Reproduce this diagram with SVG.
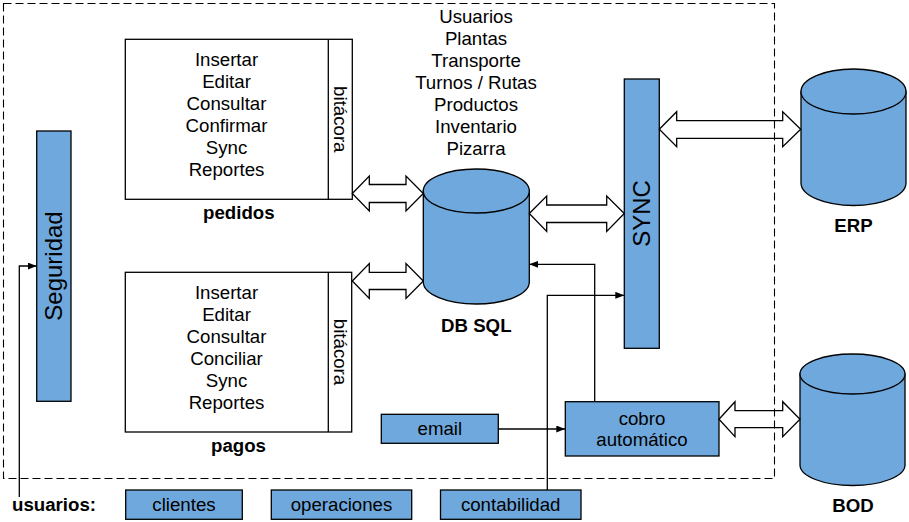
<svg xmlns="http://www.w3.org/2000/svg" width="909" height="522" viewBox="0 0 909 522">
<style>
text{font-family:"Liberation Sans",Arial,sans-serif;font-size:18.67px;fill:#000;text-anchor:middle}
.b{font-weight:bold}
.big{font-size:24px}
.blue{fill:#6fa8dc;stroke:#000;stroke-width:1.3}
.box{fill:#fff;stroke:#000;stroke-width:1.3}
.blk{fill:none;stroke:#000;stroke-width:1.3;stroke-linejoin:miter}
.ln{fill:none;stroke:#000;stroke-width:1.3}
</style>
<defs>
<marker id="ah" markerWidth="9" markerHeight="7" refX="9" refY="3.5" orient="auto" markerUnits="userSpaceOnUse">
<path d="M0,0 L9,3.5 L0,7 Z" fill="#000"/>
</marker>
</defs>
<rect x="3.5" y="3.5" width="771" height="475" fill="none" stroke="#000" stroke-width="1.1" stroke-dasharray="8,4"/>

<g id="lista">
<text x="476" y="17" dy="0.3em">Usuarios</text>
<text x="476" y="39" dy="0.3em">Plantas</text>
<text x="476" y="61" dy="0.3em">Transporte</text>
<text x="476" y="83" dy="0.3em">Turnos / Rutas</text>
<text x="476" y="105" dy="0.3em">Productos</text>
<text x="476" y="127" dy="0.3em">Inventario</text>
<text x="476" y="149" dy="0.3em">Pizarra</text>
</g>

<g id="pedidos">
<rect class="box" x="125.3" y="39.3" width="227" height="160"/>
<line class="ln" x1="328.3" y1="39.3" x2="328.3" y2="199.3"/>
<text x="226.5" y="60" dy="0.3em">Insertar</text>
<text x="226.5" y="82" dy="0.3em">Editar</text>
<text x="226.5" y="104" dy="0.3em">Consultar</text>
<text x="226.5" y="126" dy="0.3em">Confirmar</text>
<text x="226.5" y="148" dy="0.3em">Sync</text>
<text x="226.5" y="170" dy="0.3em">Reportes</text>
<text transform="translate(340.3,119.3) rotate(90)" dy="0.35em">bitácora</text>
<text class="b" x="238.8" y="213" dy="0.3em">pedidos</text>
</g>

<g id="pagos">
<rect class="box" x="125.3" y="272.3" width="226.4" height="159.7"/>
<line class="ln" x1="328.3" y1="272.3" x2="328.3" y2="432"/>
<text x="226.5" y="293" dy="0.3em">Insertar</text>
<text x="226.5" y="315" dy="0.3em">Editar</text>
<text x="226.5" y="337" dy="0.3em">Consultar</text>
<text x="226.5" y="359" dy="0.3em">Conciliar</text>
<text x="226.5" y="381" dy="0.3em">Sync</text>
<text x="226.5" y="403" dy="0.3em">Reportes</text>
<text transform="translate(340.3,352) rotate(90)" dy="0.35em">bitácora</text>
<text class="b" x="238.5" y="446" dy="0.3em">pagos</text>
</g>

<g id="seguridad">
<rect class="blue" x="36.7" y="131" width="34.3" height="270.3"/>
<text class="big" transform="translate(54,266) rotate(-90)" dy="0.35em">Seguridad</text>
</g>

<g id="sync">
<rect class="blue" x="624.3" y="79" width="35" height="269.3"/>
<text class="big" transform="translate(641.8,213.5) rotate(-90)" dy="0.35em">SYNC</text>
</g>

<g id="dbsql">
<path class="blue" d="M423.3,191 L423.3,282 A53,22 0 0 0 529.3,282 L529.3,191 Z"/>
<ellipse class="blue" cx="476.3" cy="191" rx="53" ry="22"/>
<text class="b" x="476.3" y="326" dy="0.3em">DB SQL</text>
</g>

<g id="erp">
<path class="blue" d="M801,91.5 L801,183 A52.5,22.5 0 0 0 906,183 L906,91.5 Z"/>
<ellipse class="blue" cx="853.5" cy="91.5" rx="52.5" ry="22.5"/>
<text class="b" x="853.5" y="226" dy="0.3em">ERP</text>
</g>

<g id="bod">
<path class="blue" d="M800,374 L800,465 A52.5,20.5 0 0 0 905,465 L905,374 Z"/>
<ellipse class="blue" cx="852.5" cy="374" rx="52.5" ry="20"/>
<text class="b" x="853" y="506.5" dy="0.3em">BOD</text>
</g>

<g id="cobro">
<rect class="blue" x="565.3" y="401.7" width="153.7" height="54.3"/>
<text x="642" y="419" dy="0.3em">cobro</text>
<text x="642" y="440" dy="0.3em">automático</text>
</g>

<g id="email">
<rect class="blue" x="381.3" y="414.3" width="117" height="29"/>
<text x="439.8" y="429" dy="0.3em">email</text>
</g>

<g id="usuarios">
<text class="b" x="54" y="505" dy="0.3em">usuarios:</text>
</g>
<g id="clientes">
<rect class="blue" x="125.7" y="490" width="116.6" height="29.3"/>
<text x="184" y="505" dy="0.3em">clientes</text>
</g>
<g id="operaciones">
<rect class="blue" x="271.3" y="490" width="140.4" height="29.3"/>
<text x="341.5" y="505" dy="0.3em">operaciones</text>
</g>
<g id="contabilidad">
<rect class="blue" x="440.5" y="490" width="140.5" height="29.3"/>
<text x="510.7" y="505" dy="0.3em">contabilidad</text>
</g>

<g id="connectors">
<path class="blk" d="M352.3,193.5 L369.3,176 L369.3,184.5 L406,184.5 L406,176 L423.3,193.5 L406,211 L406,202.5 L369.3,202.5 L369.3,211 Z"/>
<path class="blk" d="M352.3,281 L369.3,263.5 L369.3,272.3 L406,272.3 L406,263.5 L423.3,281 L406,298.5 L406,289.5 L369.3,289.5 L369.3,298.5 Z"/>
<path class="blk" d="M529.3,213.5 L546.7,196 L546.7,205 L606.7,205 L606.7,196 L624.3,213.5 L606.7,231.5 L606.7,222.5 L546.7,222.5 L546.7,231.5 Z"/>
<path class="blk" d="M659.3,129.2 L676.7,111.7 L676.7,120.7 L782.7,120.7 L782.7,111.7 L800.7,129.2 L782.7,146.7 L782.7,138.3 L676.7,138.3 L676.7,146.7 Z"/>
<path class="blk" d="M719,419.2 L735,401.7 L735,410.7 L782.7,410.7 L782.7,401.7 L800,419.2 L782.7,436.7 L782.7,427.7 L735,427.7 L735,436.7 Z"/>
<path class="ln" d="M19.3,497 L19.3,266 L36.7,266" marker-end="url(#ah)"/>
<path class="ln" d="M498.3,429 L565.3,429" marker-end="url(#ah)"/>
<path class="ln" d="M594.7,401.7 L594.7,264.3 L529.3,264.3" marker-end="url(#ah)"/>
<path class="ln" d="M547.3,490 L547.3,295.3 L624.3,295.3" marker-end="url(#ah)"/>
</g>
</svg>
